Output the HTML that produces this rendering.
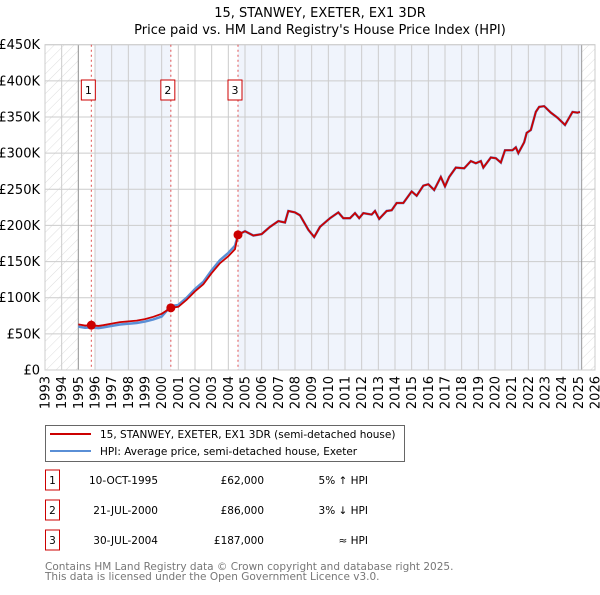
<!DOCTYPE html>
<html><head><meta charset="utf-8"><style>
body{margin:0;background:#fff;font-family:"Liberation Sans","DejaVu Sans",sans-serif;}
svg text{font-family:"DejaVu Sans","Liberation Sans",sans-serif;}
</style></head><body>
<svg id="chart" width="600" height="590" xmlns="http://www.w3.org/2000/svg">
<defs><pattern id="hatch" width="7" height="7" patternUnits="userSpaceOnUse" patternTransform="rotate(45)"><line x1="0" y1="0" x2="0" y2="7" stroke="#d4d4d4" stroke-width="0.8"/></pattern></defs>
<text x="320" y="17" text-anchor="middle" font-size="13" fill="#000">15, STANWEY, EXETER, EX1 3DR</text>
<text x="320" y="34" text-anchor="middle" font-size="13" fill="#000">Price paid vs. HM Land Registry's House Price Index (HPI)</text>
<g id="plot"></g>
<g>
<rect x="45.5" y="425.5" width="359" height="36" fill="#fff" stroke="#666"/>
<line x1="50" y1="434" x2="91" y2="434" stroke="#cc0000" stroke-width="2"/>
<text x="100" y="438" font-size="10.5">15, STANWEY, EXETER, EX1 3DR (semi-detached house)</text>
<line x1="50" y1="451" x2="91" y2="451" stroke="#5a8fd6" stroke-width="2"/>
<text x="100" y="455" font-size="10.5">HPI: Average price, semi-detached house, Exeter</text>
</g>
<g id="table" font-size="10.5"></g>
<text x="45" y="570" font-size="10.5" fill="#777">Contains HM Land Registry data © Crown copyright and database right 2025.</text>
<text x="45" y="580" font-size="10.5" fill="#777">This data is licensed under the Open Government Licence v3.0.</text>
</svg>
<script>
const yTicks=[0,50000,100000,150000,200000,250000,300000,350000,400000,450000];
const yTickLabels=["£0","£50K","£100K","£150K","£200K","£250K","£300K","£350K","£400K","£450K"];
const xYears=[1993,1994,1995,1996,1997,1998,1999,2000,2001,2002,2003,2004,2005,2006,2007,2008,2009,2010,2011,2012,2013,2014,2015,2016,2017,2018,2019,2020,2021,2022,2023,2024,2025,2026];
const saleDates=[1995.78,2000.55,2004.58];
const salePrices=[62000,86000,187000];
const saleLabels=["1","2","3"];
const saleDateText=["10-OCT-1995","21-JUL-2000","30-JUL-2004"];
const salePriceText=["£62,000","£86,000","£187,000"];
const saleHpiText=["5% ↑ HPI","3% ↓ HPI","≈ HPI"];
const hpiDates=[1995.0,1995.4,1995.78,1996.2,1996.5,1997.0,1997.5,1998.0,1998.5,1999.0,1999.5,2000.0,2000.55,2001.0,2001.5,2002.0,2002.5,2003.0,2003.5,2004.0,2004.4,2004.58,2005.0,2005.5,2006.0,2006.5,2007.0,2007.4,2007.6,2008.0,2008.3,2008.8,2009.15,2009.5,2010.1,2010.6,2010.9,2011.3,2011.6,2011.85,2012.1,2012.6,2012.8,2013.05,2013.5,2013.8,2014.1,2014.5,2015.0,2015.3,2015.7,2016.0,2016.35,2016.75,2017.0,2017.25,2017.65,2018.15,2018.55,2018.85,2019.15,2019.3,2019.75,2020.05,2020.35,2020.6,2021.05,2021.25,2021.4,2021.75,2021.9,2022.15,2022.45,2022.65,2022.95,2023.35,2023.75,2024.2,2024.65,2024.95,2025.1];
const hpiValues=[60000,58500,59000,58000,59000,61000,63000,64000,65000,67000,70000,74000,88500,90000,100000,112000,122000,138000,152000,162000,172000,187000,192000,186000,188000,198000,206000,204000,220000,218000,214000,194000,184000,198000,210000,218000,210000,210000,217000,210000,217000,215000,220000,209000,220000,221000,231000,231000,247000,241000,255000,257000,249000,267000,254000,267000,280000,279000,289000,286000,289000,280000,294000,293000,287000,304000,304000,308000,300000,315000,328000,332000,357000,364000,365000,356000,349000,339000,357000,356000,357000];

const NS="http://www.w3.org/2000/svg";
const X0=45,X1=595,Y0=370,Y1=44.7;
const xS=y=>X0+(y-1993)/(2026-1993)*(X1-X0);
const yS=v=>Y0-v/450000*(Y0-Y1);
function mk(p,t,a){const e=document.createElementNS(NS,t);for(const k in a)e.setAttribute(k,a[k]);p.appendChild(e);return e;}
const plot=document.getElementById('plot');
const bg=mk(plot,'rect',{x:X0,y:Y1,width:X1-X0,height:Y0-Y1,fill:'#fff'});


const sh1=mk(plot,'rect',{x:xS(1996),y:Y1,width:xS(saleDates[1])-xS(1996),height:Y0-Y1,fill:'#f0f4fc'});


const sh2=mk(plot,'rect',{x:xS(saleDates[2]),y:Y1,width:xS(2025.2)-xS(saleDates[2]),height:Y0-Y1,fill:'#f0f4fc'});


const hl=mk(plot,'rect',{x:X0,y:Y1,width:xS(1995)-X0,height:Y0-Y1,fill:'url(#hatch)'});


const hr=mk(plot,'rect',{x:xS(2025.2),y:Y1,width:X1-xS(2025.2),height:Y0-Y1,fill:'url(#hatch)'});


yTicks.forEach((v,i)=>{
 const l=mk(plot,'line',{x1:X0,x2:X1,y1:yS(v),y2:yS(v),stroke:'#ccc','stroke-width':1});
 
 
 const t=mk(plot,'text',{x:40,y:yS(v)+4.5,'text-anchor':'end','font-size':13});
 t.textContent=yTickLabels[i];
 
 
});
xYears.forEach(y=>{
 const l=mk(plot,'line',{x1:xS(y),x2:xS(y),y1:Y1,y2:Y0,stroke:'#ccc','stroke-width':1});
 
 
 const t=mk(plot,'text',{x:0,y:0,'text-anchor':'end','font-size':13,transform:`translate(${xS(y)+4.5},376) rotate(-90)`});
 t.textContent=y;
 
 
});
[xS(1995),xS(2025.2)].forEach(x=>{const l=mk(plot,'line',{x1:x,x2:x,y1:Y1,y2:Y0,stroke:'#999','stroke-width':1});
 
 });
const fr=mk(plot,'rect',{x:X0,y:Y1,width:X1-X0,height:Y0-Y1,fill:'none',stroke:'#ccc'});


function hpiAt(d){for(let i=1;i<hpiDates.length;i++){if(d<=hpiDates[i]){const f=(d-hpiDates[i-1])/(hpiDates[i]-hpiDates[i-1]);return hpiValues[i-1]+f*(hpiValues[i]-hpiValues[i-1]);}}return hpiValues[hpiValues.length-1];}
const ratios=saleDates.map((d,i)=>salePrices[i]/hpiAt(d));
function redAt(d,v){let k=0;for(let i=0;i<saleDates.length;i++)if(d>=saleDates[i]-1e-9)k=i;return v*ratios[k];}
const hp=mk(plot,'polyline',{points:hpiDates.map((d,i)=>xS(d)+','+yS(hpiValues[i])).join(' '),fill:'none',stroke:'#5a8fd6','stroke-width':2.5});


const rp=mk(plot,'polyline',{points:hpiDates.map((d,i)=>xS(d)+','+yS(redAt(d,hpiValues[i]))).join(' '),fill:'none',stroke:'#cc0000','stroke-width':1.8});


saleDates.forEach((d,i)=>{
 const l=mk(plot,'line',{x1:xS(d),x2:xS(d),y1:Y1,y2:Y0,stroke:'#e05050','stroke-width':1,'stroke-dasharray':'2,3'});
 
 
 const c=mk(plot,'circle',{cx:xS(d),cy:yS(salePrices[i]),r:4.5,fill:'#cc0000'});
 
 
 const b=mk(plot,'rect',{x:xS(d)-10,y:80,width:14,height:20,fill:'#fff',stroke:'#cc0000'});
 
 
 const t=mk(plot,'text',{x:xS(d)-3,y:94,'text-anchor':'middle','font-size':11});
 t.textContent=saleLabels[i];
 
 
});
const tb=document.getElementById('table');
saleDates.forEach((d,i)=>{
 const y=483+i*30;
 const b=mk(tb,'rect',{x:45.5,y:y-13,width:14,height:20,fill:'#fff',stroke:'#cc0000'});
 
 
 const a=mk(tb,'text',{x:52.5,y:y+1,'text-anchor':'middle'});a.textContent=saleLabels[i];
 
 
 const t1=mk(tb,'text',{x:158,y:y+1,'text-anchor':'end'});t1.textContent=saleDateText[i];
 
 
 const t2=mk(tb,'text',{x:264,y:y+1,'text-anchor':'end'});t2.textContent=salePriceText[i];
 
 
 const t3=mk(tb,'text',{x:368,y:y+1,'text-anchor':'end'});t3.textContent=saleHpiText[i];
 
 
});
</script>
</body></html>
